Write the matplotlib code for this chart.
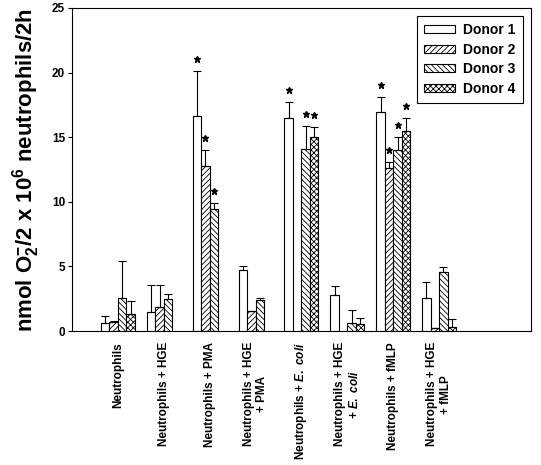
import matplotlib
matplotlib.use('Agg')
import matplotlib.pyplot as plt
import numpy as np

plt.rcParams['font.family'] = ['Liberation Sans', 'DejaVu Sans']
plt.rcParams['font.weight'] = 'bold'
plt.rcParams['axes.labelweight'] = 'bold'
plt.rcParams['mathtext.fontset'] = 'custom'
plt.rcParams['mathtext.rm'] = 'Liberation Sans:bold'
plt.rcParams['mathtext.bf'] = 'Liberation Sans:bold'
plt.rcParams['mathtext.it'] = 'Liberation Sans:italic:bold'
plt.rcParams['hatch.linewidth'] = 0.6

# conditions
groups = ['Neutrophils', 'Neutrophils + HGE', 'Neutrophils + PMA',
          'Neutrophils + HGE\n+ PMA', r'Neutrophils + $\it{E.\ coli}$',
          'Neutrophils + HGE\n' + r'+ $\it{E.\ coli}$', 'Neutrophils + fMLP',
          'Neutrophils + HGE\n+ fMLP']
donors = ['Donor 1', 'Donor 2', 'Donor 3', 'Donor 4']
nan = np.nan

# superoxide per donor (mean) and upper error
d1 = [0.62, 1.45, 16.67, 4.70, 16.49, 2.76, 16.95, 2.53]
d2 = [0.72, 1.86, 12.75, 1.52, nan, nan, 12.59, 0.26]
d3 = [2.53, 2.45, 9.42, 2.40, 14.09, 0.62, 13.98, 4.57]
d4 = [1.34, nan, nan, nan, 15.00, 0.52, 15.45, 0.33]
e1 = [0.58, 2.13, 3.43, 0.33, 1.23, 0.74, 1.18, 1.29]
e2 = [0.08, 1.68, 1.23, 0.0, nan, nan, 0.47, 0.0]
e3 = [2.87, 0.44, 0.48, 0.18, 1.81, 1.03, 1.02, 0.36]
e4 = [0.96, nan, nan, nan, 0.80, 0.46, 1.05, 0.57]
# significant bars (*)
sig1 = [0, 0, 1, 0, 1, 0, 1, 0]
sig2 = [0, 0, 1, 0, 0, 0, 1, 0]
sig3 = [0, 0, 1, 0, 1, 0, 1, 0]
sig4 = [0, 0, 0, 0, 1, 0, 1, 0]

means = [d1, d2, d3, d4]
errs = [e1, e2, e3, e4]
sigs = [sig1, sig2, sig3, sig4]
hatches = ['', '//////', '\\\\\\\\\\\\', 'xxxxxx']

fig = plt.figure(figsize=(5.41, 4.65), dpi=100)
ax = fig.add_axes([0.133, 0.288, 0.8485, 0.695])

x = np.arange(len(groups))
w = 0.185
for k in range(4):
    xs = x + (k - 1.5) * w
    m = np.array(means[k], dtype=float)
    e = np.array(errs[k], dtype=float)
    ax.bar(xs, m, w, color='white', edgecolor='black', linewidth=0.8,
           hatch=hatches[k], label=donors[k], zorder=2)
    ok = ~np.isnan(m)
    ax.errorbar(xs[ok], m[ok], yerr=[np.zeros(ok.sum()), e[ok]], fmt='none',
                ecolor='black', elinewidth=0.8, capsize=3, capthick=0.8, zorder=3)
    s = np.array(sigs[k], dtype=bool)
    ax.plot(xs[s], (m + e)[s] + 0.93, linestyle='none', marker='*',
            markersize=4.5, color='black', zorder=4)

ax.set_xlim(-1, 9)
ax.set_ylim(0, 25)
ax.set_yticks([0, 5, 10, 15, 20, 25])
ax.tick_params(axis='y', labelsize=8.5, length=3, width=0.8, pad=2)
ax.set_xticks(x - 0.37)
ax.set_xticklabels([])
ax.tick_params(axis='x', direction='in', length=3, width=0.8)
ax.set_xticks(x, minor=True)
ax.set_xticklabels(groups, minor=True, rotation=90, fontsize=8.5,
                   va='top', ha='center', multialignment='center')
ax.tick_params(axis='x', which='minor', length=0, pad=8)
for sp in ax.spines.values():
    sp.set_linewidth(0.8)

ax.set_ylabel(r'nmol O$_2^{-}$/2 x 10$^6$ neutrophils/2h', fontsize=16,
              fontweight='bold', labelpad=7)

leg = ax.legend(loc='upper right', fontsize=10, fancybox=False, framealpha=1,
                edgecolor='black', handlelength=2.2, handleheight=0.5,
                handletextpad=0.6, borderpad=0.55, labelspacing=0.4,
                bbox_to_anchor=(1.0, 1.0), borderaxespad=0.55)
leg.get_frame().set_linewidth(0.8)

fig.savefig('out.png', dpi=100)
